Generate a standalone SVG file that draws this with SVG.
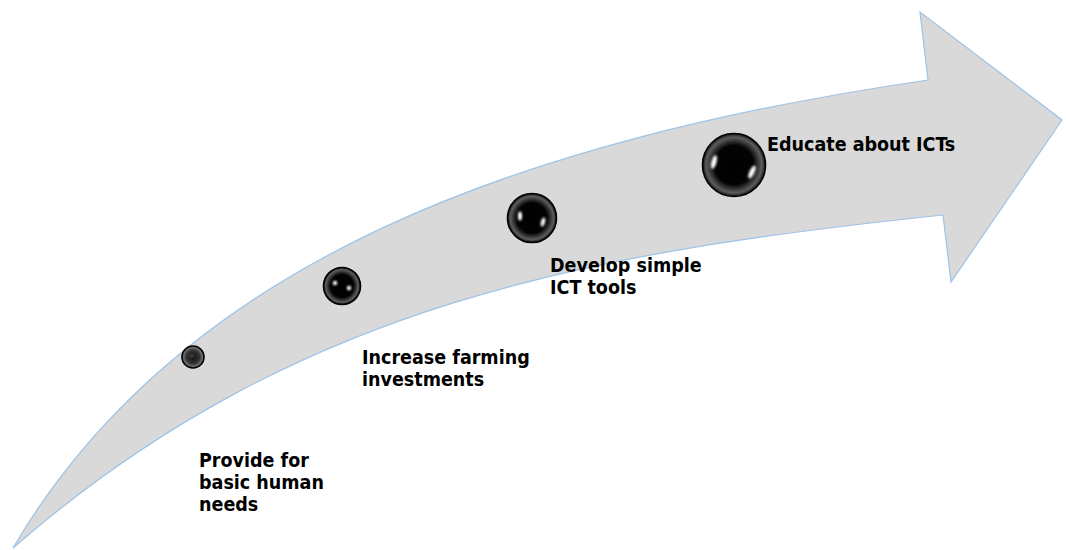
<svg xmlns="http://www.w3.org/2000/svg" width="1066" height="550" viewBox="0 0 1066 550">
  <defs>
    <radialGradient id="sphere" cx="0.5" cy="0.5" r="0.5">
      <stop offset="0" stop-color="#000"/>
      <stop offset="0.62" stop-color="#030303"/>
      <stop offset="0.88" stop-color="#5c5c5c"/>
      <stop offset="1" stop-color="#1a1a1a"/>
    </radialGradient>
    <radialGradient id="sphereSmall" cx="0.5" cy="0.5" r="0.5">
      <stop offset="0" stop-color="#111"/>
      <stop offset="0.6" stop-color="#333"/>
      <stop offset="1" stop-color="#8a8a8a"/>
    </radialGradient>
    <filter id="soft" x="-50%" y="-50%" width="200%" height="200%">
      <feGaussianBlur stdDeviation="0.8"/>
    </filter>
  </defs>
  <style>
    .arrow { fill: #d9d9d9; stroke: #9dc3e6; stroke-width: 1.2; }
    .ball { fill: url(#sphere); stroke: #000; stroke-width: 1.6; }
    .ballSmall { fill: url(#sphereSmall); stroke: #000; stroke-width: 1.6; }
    .hl { fill: #fff; filter: url(#soft); }
    .lbl { font-family: "DejaVu Sans Condensed", "DejaVu Sans", sans-serif; font-stretch: condensed; font-weight: bold; font-size: 19.5px; fill: #000; }
  </style>
  <g id="arrow">
    <path class="arrow" d="M13,548 C181,261 520,140 928,80 L920,12 L1062,120 L951,282 L943,215 C593,252 295,302 13,548 Z"/>
  </g>
  <g id="connectors"></g>
  <g id="node1">
    <circle class="ballSmall" cx="193" cy="357" r="11"/>
    <ellipse class="hl" cx="192" cy="356" rx="1.6" ry="0.8" opacity="0.6"/>
    <text class="lbl" x="199" y="467">Provide for</text>
    <text class="lbl" x="199" y="489">basic human</text>
    <text class="lbl" x="199" y="511">needs</text>
  </g>
  <g id="node2">
    <circle class="ball" cx="342" cy="286" r="18.5"/>
    <circle class="hl" cx="335" cy="283" r="2.2"/>
    <circle class="hl" cx="349" cy="288" r="2.2"/>
    <text class="lbl" x="362" y="364">Increase farming</text>
    <text class="lbl" x="362" y="386">investments</text>
  </g>
  <g id="node3">
    <circle class="ball" cx="532" cy="218" r="24.5"/>
    <ellipse class="hl" cx="520" cy="216" rx="2" ry="4.5"/>
    <ellipse class="hl" cx="543" cy="222" rx="2" ry="4.5" transform="rotate(15 543 222)"/>
    <text class="lbl" x="550" y="272">Develop simple</text>
    <text class="lbl" x="550" y="294">ICT tools</text>
  </g>
  <g id="node4">
    <circle class="ball" cx="734" cy="165" r="31.5"/>
    <ellipse class="hl" cx="714" cy="162" rx="2.5" ry="7" transform="rotate(15 714 162)"/>
    <ellipse class="hl" cx="752" cy="172" rx="2.5" ry="7" transform="rotate(25 752 172)"/>
    <text class="lbl" x="767" y="151">Educate about ICTs</text>
  </g>
</svg>
